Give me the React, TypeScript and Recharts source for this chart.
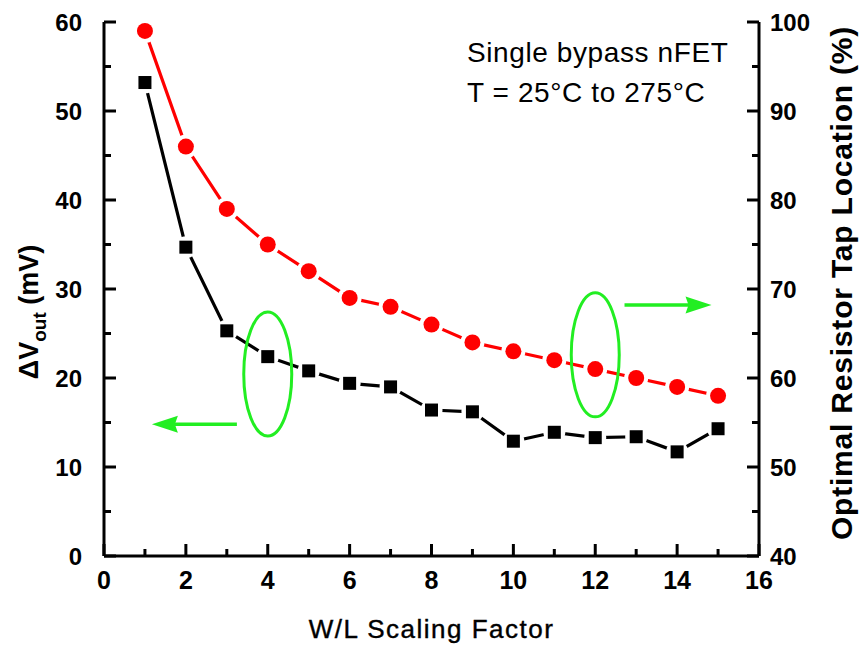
import { LineChart, Line, XAxis, YAxis, ReferenceDot, Customized, Label } from 'recharts';

const scaleFactor = [1, 2, 3, 4, 5, 6, 7, 8, 9, 10, 11, 12, 13, 14, 15];
const deltaVout = [53.2, 34.7, 25.3, 22.4, 20.8, 19.4, 19.0, 16.4, 16.2, 12.9, 13.9, 13.3, 13.4, 11.7, 14.3];
const tapLocation = [99, 86, 79, 75, 72, 69, 68, 66, 64, 63, 62, 61, 60, 59, 58];

const xTicks = [0, 1, 2, 3, 4, 5, 6, 7, 8, 9, 10, 11, 12, 13, 14, 15, 16];
const leftTicks = [0, 5, 10, 15, 20, 25, 30, 35, 40, 45, 50, 55, 60];
const rightTicks = [40, 45, 50, 55, 60, 65, 70, 75, 80, 85, 90, 95, 100];

const data = scaleFactor.map((x, i) => ({ x, dv: deltaVout[i], tap: tapLocation[i] }));

const FONT = '"Liberation Sans", Arial, Helvetica, sans-serif';
const GREEN = '#22ee22';
const AXIS_W = 3;

const LEFT_M = 22;
const RIGHT_M = 11;
const BOTTOM_M = 15;

function LeftTick({ x, y, payload }: any) {
  const v = payload.value;
  const major = v % 10 === 0;
  const ax = x + LEFT_M;
  return (
    <g>
      <line x1={ax} x2={ax + (major ? 12 : 7)} y1={y} y2={y} stroke="#000" strokeWidth={AXIS_W} />
      {major && (
        <text x={x} y={y} dy="0.355em" textAnchor="end" fontFamily={FONT} fontSize={24} fontWeight="bold" fill="#000">
          {v}
        </text>
      )}
    </g>
  );
}

function RightTick({ x, y, payload }: any) {
  const v = payload.value;
  const major = v % 10 === 0;
  const ax = x - RIGHT_M;
  return (
    <g>
      <line x1={ax} x2={ax - (major ? 12 : 7)} y1={y} y2={y} stroke="#000" strokeWidth={AXIS_W} />
      {major && (
        <text x={x} y={y} dy="0.355em" textAnchor="start" fontFamily={FONT} fontSize={24} fontWeight="bold" fill="#000">
          {v}
        </text>
      )}
    </g>
  );
}

function BottomTick({ x, y, payload }: any) {
  const v = payload.value;
  const major = v % 2 === 0;
  const ay = y - BOTTOM_M;
  return (
    <g>
      <line x1={x} x2={x} y1={ay} y2={ay - (major ? 12 : 7)} stroke="#000" strokeWidth={AXIS_W} />
      {major && (
        <text x={x} y={y} dy="0.71em" textAnchor="middle" fontFamily={FONT} fontSize={25} fontWeight="bold" fill="#000">
          {v}
        </text>
      )}
    </g>
  );
}

function SquareDot({ cx, cy, index }: any) {
  if (cx == null || cy == null) return <g key={index} />;
  return (
    <g key={index}>
      <circle cx={cx} cy={cy} r={11} fill="#fff" />
      <rect x={cx - 6.5} y={cy - 6.5} width={13} height={13} fill="#000" />
    </g>
  );
}

function CircleDot({ cx, cy, index }: any) {
  if (cx == null || cy == null) return <g key={index} />;
  return (
    <g key={index}>
      <circle cx={cx} cy={cy} r={12} fill="#fff" />
      <circle cx={cx} cy={cy} r={8} fill="#ff0000" />
    </g>
  );
}

function Ellipse({ cx, cy }: any) {
  return <ellipse cx={cx} cy={cy} rx={24} ry={62} fill="none" stroke={GREEN} strokeWidth={3} />;
}

function ArrowLeft({ cx, cy }: any) {
  return (
    <g>
      <line x1={cx + 20} x2={cx + 85} y1={cy} y2={cy} stroke={GREEN} strokeWidth={3.5} />
      <path d={`M${cx},${cy} L${cx + 26},${cy - 8.5} L${cx + 23},${cy} L${cx + 26},${cy + 8.5} Z`} fill={GREEN} />
    </g>
  );
}

function ArrowRight({ cx, cy }: any) {
  return (
    <g>
      <line x1={cx - 87} x2={cx - 20} y1={cy} y2={cy} stroke={GREEN} strokeWidth={3.5} />
      <path d={`M${cx},${cy} L${cx - 26},${cy - 8.5} L${cx - 23},${cy} L${cx - 26},${cy + 8.5} Z`} fill={GREEN} />
    </g>
  );
}

function LeftTitle({ viewBox }: any) {
  const tx = viewBox.x + 34;
  const ty = viewBox.y + viewBox.height / 2 + 23;
  return (
    <text transform={`translate(${tx},${ty}) rotate(-90)`} textAnchor="middle" fontFamily={FONT} fontSize={27} fontWeight="bold" fill="#000">
      ΔV<tspan fontSize={19} dy={8}>out</tspan>
      <tspan dy={-8}> (mV)</tspan>
    </text>
  );
}

function RightTitle({ viewBox }: any) {
  const tx = viewBox.x + 93;
  const ty = viewBox.y + viewBox.height / 2 - 6;
  return (
    <text transform={`translate(${tx},${ty}) rotate(-90)`} textAnchor="middle" fontFamily={FONT} fontSize={30} fontWeight="bold" letterSpacing={0.8} fill="#000">
      Optimal Resistor Tap Location (%)
    </text>
  );
}

function BottomTitle({ viewBox }: any) {
  return (
    <text x={viewBox.x + viewBox.width / 2} y={viewBox.y + 82} textAnchor="middle" fontFamily={FONT} fontSize={26} letterSpacing={1.5} stroke="#000" strokeWidth={0.4} fill="#000">
      W/L Scaling Factor
    </text>
  );
}

function Annotation() {
  return (
    <g fontFamily={FONT} fontSize={28} fill="#000" letterSpacing={0.6}>
      <text x={467} y={62}>Single bypass nFET</text>
      <text x={467} y={102}>T = 25°C to 275°C</text>
    </g>
  );
}

export default function App() {
  return (
    <div style={{ position: 'absolute', left: 0, top: 0, width: 859, height: 647, background: '#fff' }}>
      <LineChart width={859} height={647} data={data} margin={{ top: 22, right: 0, bottom: 0, left: 4 }}>
        <XAxis
          dataKey="x"
          type="number"
          domain={[0, 16]}
          ticks={xTicks}
          interval={0}
          height={91}
          tickSize={0}
          tickMargin={BOTTOM_M}
          tickLine={false}
          tick={<BottomTick />}
          axisLine={{ stroke: '#000', strokeWidth: AXIS_W }}
        >
          <Label content={<BottomTitle />} />
        </XAxis>
        <XAxis
          xAxisId="top"
          orientation="top"
          dataKey="x"
          type="number"
          domain={[0, 16]}
          height={0}
          tick={false}
          tickLine={false}
          axisLine={{ stroke: '#000', strokeWidth: AXIS_W }}
        />
        <YAxis
          yAxisId="left"
          domain={[0, 60]}
          ticks={leftTicks}
          interval={0}
          width={100}
          tickSize={0}
          tickMargin={LEFT_M}
          tickLine={false}
          tick={<LeftTick />}
          axisLine={{ stroke: '#000', strokeWidth: AXIS_W }}
        >
          <Label content={<LeftTitle />} />
        </YAxis>
        <YAxis
          yAxisId="right"
          orientation="right"
          domain={[40, 100]}
          ticks={rightTicks}
          interval={0}
          width={100}
          tickSize={0}
          tickMargin={RIGHT_M}
          tickLine={false}
          tick={<RightTick />}
          axisLine={{ stroke: '#000', strokeWidth: AXIS_W }}
        >
          <Label content={<RightTitle />} />
        </YAxis>

        <Line
          yAxisId="left"
          type="linear"
          dataKey="dv"
          stroke="#000"
          strokeWidth={3.2}
          dot={(p: any) => <SquareDot key={p.index} {...p} />}
          isAnimationActive={false}
        />
        <Line
          yAxisId="right"
          type="linear"
          dataKey="tap"
          stroke="#ff0000"
          strokeWidth={3.2}
          dot={(p: any) => <CircleDot key={p.index} {...p} />}
          isAnimationActive={false}
        />

        <ReferenceDot yAxisId="left" x={4} y={20.45} shape={(p: any) => <Ellipse {...p} />} />
        <ReferenceDot yAxisId="left" x={1.17} y={14.8} shape={(p: any) => <ArrowLeft {...p} />} />
        <ReferenceDot yAxisId="right" x={12} y={62.6} shape={(p: any) => <Ellipse {...p} />} />
        <ReferenceDot yAxisId="right" x={14.84} y={68.2} shape={(p: any) => <ArrowRight {...p} />} />

        <Customized component={Annotation} />
      </LineChart>
    </div>
  );
}
